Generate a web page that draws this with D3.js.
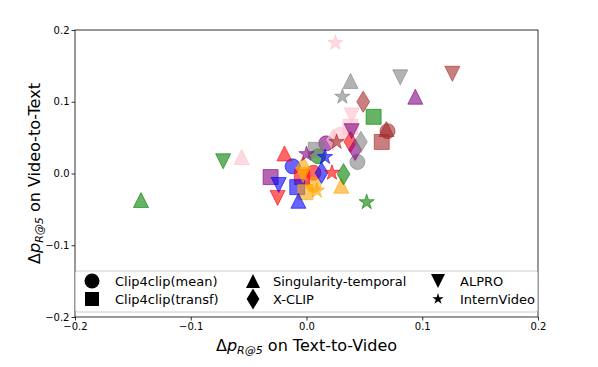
<!DOCTYPE html>
<html>
<head>
<meta charset="utf-8">
<title>Delta R@5 scatter</title>
<script src="https://cdn.jsdelivr.net/npm/d3@7"></script>
<style>
  body { margin: 0; background: #fff; }
  svg { font-family: "DejaVu Sans", sans-serif; }
</style>
</head>
<body>
<svg id="chart" width="598" height="367"></svg>
<script>
// models (marker shapes) and perturbation colours
var models = ['Clip4clip(mean)', 'Clip4clip(transf)', 'Singularity-temporal', 'X-CLIP', 'ALPRO', 'InternVideo'];
var markers = ['o', 's', '^', 'd', 'v', '*'];
var colorNames = ['red', 'blue', 'green', 'orange', 'purple', 'gray', 'pink', 'brown'];

// delta R@5 on text-to-video, one row per model, one value per colour
var t2v = [
  [0.006, -0.012, 0.010, 0.006, 0.017, 0.044, 0.029, 0.070],
  [-0.004, -0.008, 0.058, -0.001, -0.031, 0.008, 0.038, 0.065],
  [-0.019, -0.007, -0.143, 0.030, 0.094, 0.038, -0.056, 0.069],
  [0.038, 0.013, 0.032, -0.003, 0.042, 0.047, 0.023, 0.049],
  [-0.025, -0.024, -0.072, -0.003, 0.039, 0.081, 0.039, 0.126],
  [0.022, 0.016, 0.052, 0.009, 0.000, 0.031, 0.025, 0.026]
];
// delta R@5 on video-to-text
var v2t = [
  [0.001, 0.010, 0.024, -0.016, 0.042, 0.016, 0.054, 0.059],
  [-0.005, -0.019, 0.079, -0.026, -0.005, 0.033, 0.065, 0.044],
  [0.028, -0.038, -0.037, -0.017, 0.107, 0.129, 0.023, 0.062],
  [0.044, 0.001, -0.001, 0.009, 0.033, 0.044, 0.047, 0.100],
  [-0.034, -0.016, 0.017, -0.002, 0.059, 0.134, 0.081, 0.139],
  [0.001, 0.023, -0.040, -0.024, 0.027, 0.107, 0.182, 0.044]
];
var xTicks = [-0.2, -0.1, 0.0, 0.1, 0.2];
var yTicks = [-0.2, -0.1, 0.0, 0.1, 0.2];

var svg = d3.select('#chart');
var pLeft = 75, pRight = 538, pTop = 30, pBottom = 317;
var x = d3.scaleLinear().domain([-0.2, 0.2]).range([pLeft, pRight]);
var y = d3.scaleLinear().domain([-0.2, 0.2]).range([pBottom, pTop]);

// matplotlib-like marker paths, ms = marker size in px
function markerPath(m, ms) {
  var h = ms / 2;
  if (m === 'o') {
    return 'M' + h + ',0A' + h + ',' + h + ' 0 1,1 ' + (-h) + ',0A' + h + ',' + h + ' 0 1,1 ' + h + ',0Z';
  }
  if (m === 's') return 'M' + (-h) + ',' + (-h) + 'H' + h + 'V' + h + 'H' + (-h) + 'Z';
  if (m === '^') return 'M0,' + (-h) + 'L' + h + ',' + h + 'L' + (-h) + ',' + h + 'Z';
  if (m === 'v') return 'M0,' + h + 'L' + h + ',' + (-h) + 'L' + (-h) + ',' + (-h) + 'Z';
  if (m === 'd') {
    var dy = h * Math.SQRT2, dx = dy * 0.6;
    return 'M0,' + (-dy) + 'L' + dx + ',0L0,' + dy + 'L' + (-dx) + ',0Z';
  }
  // star
  var pts = [];
  for (var i = 0; i < 10; i++) {
    var r = i % 2 === 0 ? h : h * 0.381966;
    var a = Math.PI * i / 5;
    pts.push([r * Math.sin(a), -r * Math.cos(a)]);
  }
  return 'M' + pts.map(function(p){ return p[0].toFixed(2) + ',' + p[1].toFixed(2); }).join('L') + 'Z';
}

// points
var pts = [];
models.forEach(function(m, i) {
  colorNames.forEach(function(c, j) {
    pts.push({ marker: markers[i], color: c, x: t2v[i][j], y: v2t[i][j] });
  });
});

svg.append('g').selectAll('path').data(pts).enter().append('path')
  .attr('transform', function(d){ return 'translate(' + x(d.x) + ',' + y(d.y) + ')'; })
  .attr('d', function(d){ return markerPath(d.marker, d.marker === '*' ? 16 : 15); })
  .attr('fill', function(d){ return d.color; })
  .attr('fill-opacity', 0.6)
  .attr('stroke', function(d){ return d.color; })
  .attr('stroke-opacity', 0.6)
  .attr('stroke-width', 1);

// axes
var fmt = function(d){ return d3.format('.1f')(d).replace('-', '\u2212'); };
var xAxis = svg.append('g').attr('transform', 'translate(0,' + pBottom + ')')
  .call(d3.axisBottom(x).tickValues(xTicks).tickFormat(fmt).tickSize(3.5).tickPadding(2));
var yAxis = svg.append('g').attr('transform', 'translate(' + pLeft + ',0)')
  .call(d3.axisLeft(y).tickValues(yTicks).tickFormat(fmt).tickSize(3.5).tickPadding(2));
[xAxis, yAxis].forEach(function(g) {
  g.select('.domain').remove();
  g.selectAll('text').attr('font-size', 10).attr('fill', '#000').attr('font-family', 'DejaVu Sans');
  g.selectAll('line').attr('stroke', '#000').attr('stroke-width', 0.8);
});

// frame
svg.append('rect').attr('x', pLeft).attr('y', pTop)
  .attr('width', pRight - pLeft).attr('height', pBottom - pTop)
  .attr('fill', 'none').attr('stroke', '#000').attr('stroke-width', 0.8);

// legend
var legend = svg.append('g');
legend.append('rect').attr('x', pLeft + 0.5).attr('y', 271).attr('width', pRight - pLeft - 1).attr('height', 41)
  .attr('rx', 2).attr('fill', '#fff').attr('fill-opacity', 0.8)
  .attr('stroke', '#cccccc').attr('stroke-width', 1);
var legCols = [92, 253, 438], legText = [115, 273, 460], legRows = [281, 299];
var legOrder = [[0, 0, 0], [1, 0, 1], [2, 1, 0], [3, 1, 1], [4, 2, 0], [5, 2, 1]];
var legSize = { 'o': 15, 's': 14, '^': 14, 'd': 15, 'v': 14, '*': 12 };
legOrder.forEach(function(o) {
  var m = markers[o[0]];
  legend.append('path')
    .attr('transform', 'translate(' + legCols[o[1]] + ',' + legRows[o[2]] + ')')
    .attr('d', markerPath(m, legSize[m]))
    .attr('fill', '#000');
  legend.append('text').attr('x', legText[o[1]]).attr('y', legRows[o[2]] + 5)
    .attr('font-size', 13).text(models[o[0]]);
});

// axis labels with math subscript
function mathLabel(sel) {
  sel.append('tspan').text('\u0394');
  sel.append('tspan').attr('font-style', 'italic').text('p');
  sel.append('tspan').attr('font-style', 'italic').attr('font-size', 11).attr('dy', 3).text('R@5');
  sel.append('tspan').attr('dy', -3).text(' on ');
}
var xl = svg.append('text').attr('x', (pLeft + pRight) / 2).attr('y', 351)
  .attr('text-anchor', 'middle').attr('font-size', 16);
mathLabel(xl);
xl.append('tspan').text('Text-to-Video');

var yl = svg.append('text').attr('transform', 'translate(40,' + ((pTop + pBottom) / 2) + ') rotate(-90)')
  .attr('text-anchor', 'middle').attr('font-size', 16);
mathLabel(yl);
yl.append('tspan').text('Video-to-Text');
</script>
</body>
</html>
